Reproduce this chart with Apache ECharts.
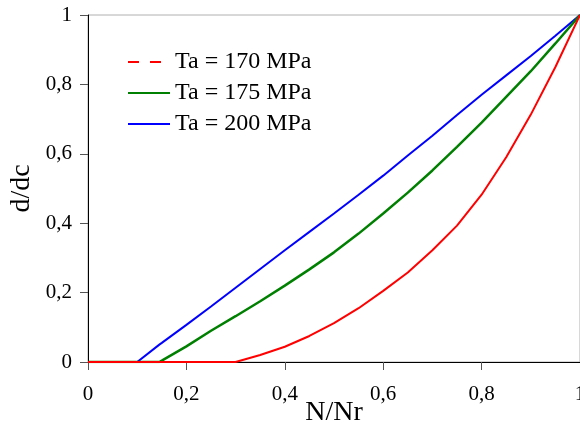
<!DOCTYPE html>
<html>
<head>
<meta charset="utf-8">
<script src="https://cdn.jsdelivr.net/npm/echarts@6/dist/echarts.min.js"></script>
<style>html,body{margin:0;padding:0;background:#fff}#c{width:580px;height:426px}</style>
</head>
<body>
<div id="c"></div>
<script>
var seriesNames = ['Ta = 170 MPa', 'Ta = 175 MPa', 'Ta = 200 MPa'];
var xValues = [0, 0.05, 0.1, 0.145, 0.15, 0.2, 0.25, 0.3, 0.35, 0.4, 0.45, 0.5, 0.55, 0.6, 0.65, 0.7, 0.75, 0.8, 0.85, 0.9, 0.95, 1];
var y170 = [0, 0, 0, 0, 0, 0, 0, 0, 0.02, 0.044, 0.075, 0.112, 0.155, 0.205, 0.258, 0.322, 0.393, 0.482, 0.59, 0.713, 0.85, 1];
var y175 = [0, 0, 0, 0, 0.004, 0.045, 0.09, 0.132, 0.175, 0.22, 0.267, 0.316, 0.37, 0.428, 0.488, 0.552, 0.62, 0.69, 0.764, 0.838, 0.918, 1];
var y200 = [0, 0, 0, 0.05, 0.055, 0.107, 0.16, 0.214, 0.268, 0.322, 0.375, 0.428, 0.482, 0.537, 0.595, 0.652, 0.712, 0.77, 0.826, 0.882, 0.94, 1];
var xTicks = [0, 0.2, 0.4, 0.6, 0.8, 1];
var yTicks = [0, 0.2, 0.4, 0.6, 0.8, 1];
var colors = ['#ff0000', '#008000', '#0000ff'];

function pairs(ys) { return xValues.map(function (x, i) { return [x, ys[i]]; }); }
function fmt(v) { return String(v).replace('.', ','); }
var font = 'Liberation Serif';

var chart = echarts.init(document.getElementById('c'), null, {renderer: 'canvas'});
chart.setOption({
  animation: false,
  backgroundColor: '#fff',
  grid: {left: 88, right: 0, top: 15, bottom: 64, containLabel: false, outerBoundsMode: 'none', show: true, borderColor: '#b0b0b0', borderWidth: 1, backgroundColor: 'transparent'},
  legend: {
    orient: 'vertical', left: 127, top: 50, padding: 0, itemGap: 7,
    itemWidth: 42, itemHeight: 14,
    itemStyle: {opacity: 0},
    textStyle: {fontFamily: font, fontSize: 24, color: '#000', lineHeight: 24},
    data: [
      {name: seriesNames[0], lineStyle: {type: [11, 11], width: 2}},
      {name: seriesNames[1]},
      {name: seriesNames[2]}
    ]
  },
  xAxis: {
    type: 'value', min: 0, max: 1, interval: 0.2,
    name: 'N/Nr', nameLocation: 'middle', nameGap: 37, nameMoveOverlap: false,
    nameTextStyle: {fontFamily: font, fontSize: 28, color: '#000'},
    axisLine: {show: true, lineStyle: {color: '#000', width: 1}},
    axisTick: {show: true, length: 8, lineStyle: {color: '#555'}},
    axisLabel: {margin: 22, fontFamily: font, fontSize: 21, color: '#000', formatter: fmt},
    splitLine: {show: false}
  },
  yAxis: {
    type: 'value', min: 0, max: 1, interval: 0.2,
    name: 'd/dc', nameLocation: 'middle', nameGap: 52, nameRotate: 90, nameMoveOverlap: false,
    nameTextStyle: {fontFamily: font, fontSize: 28, color: '#000'},
    axisLine: {show: true, lineStyle: {color: '#000', width: 1}},
    axisTick: {show: true, length: 8, lineStyle: {color: '#555'}},
    axisLabel: {margin: 16, fontFamily: font, fontSize: 21, color: '#000', formatter: fmt},
    splitLine: {show: false}
  },
  series: [
    {name: seriesNames[0], type: 'line', data: pairs(y170), symbol: 'none', color: colors[0], lineStyle: {width: 2, color: colors[0]}, z: 3},
    {name: seriesNames[1], type: 'line', data: pairs(y175), symbol: 'none', color: colors[1], lineStyle: {width: 2.5, color: colors[1]}, z: 2},
    {name: seriesNames[2], type: 'line', data: pairs(y200), symbol: 'none', color: colors[2], lineStyle: {width: 2, color: colors[2]}, z: 1}
  ]
});
</script>
</body>
</html>
